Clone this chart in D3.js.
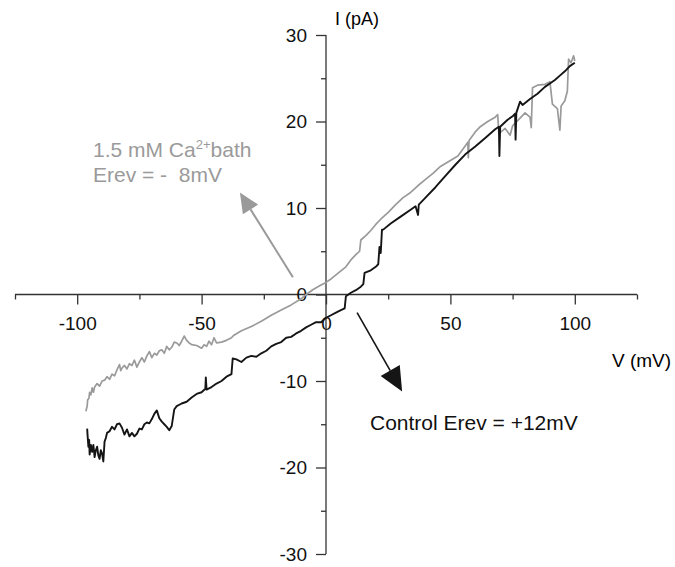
<!DOCTYPE html>
<html>
<head>
<meta charset="utf-8">
<script src="https://cdn.jsdelivr.net/npm/d3@7"></script>
<style>
  body { margin: 0; background: #fff; }
  svg { display: block; font-family: "Liberation Sans", Arial, sans-serif; }
  .axis text { font-size: 19px; fill: #111; }
  .axis line, .axis path { stroke: #333; stroke-width: 1.3; }
</style>
</head>
<body>
<div class="graph-container"></div>
<script>
var svgWidth = 675;
var svgHeight = 567;

// 1.5 mM Ca2+ bath trace, [V (mV), I (pA)]
var bathV = [-96.5, -96, -95.8, -95.3, -95, -94.5, -94, -93.5, -93, -92, -91, -90, -89, -88, -87, -86, -85, -84, -83, -82.5, -82, -81, -80, -79, -78, -77, -76, -75, -74, -73, -72, -71,
  -70, -69, -68, -67, -66, -65, -64, -63, -62, -61, -60, -59, -58, -57, -56, -55, -54, -52, -50, -49, -48, -47, -46, -45, -44, -42, -40, -38, -37, -34,
  -30, -26, -22, -18, -14, -10, -8, -5, -2, 0, 2, 5, 8, 10, 12, 13.5, 14, 16, 18, 20,
  22, 25, 28, 31, 34, 37, 40, 43, 46, 50, 53, 55, 57, 57.2, 57.5, 60, 62, 65, 68, 69,
  69.5, 72, 74, 75, 78, 80, 82, 82.5, 83, 85, 88, 90, 91, 93, 94, 94.5, 96, 97, 97.5, 98.5, 99.5, 100];
var bathI = [-13.5, -12.9, -12.2, -12.0, -11.3, -11.6, -10.8, -11.3, -10.7, -10.3, -10.6, -10.0, -9.9, -9.5, -9.8, -9.2, -9.4, -8.7, -8.1, -8.8, -8.5, -8.2, -8.6, -8.0, -8.2, -7.6, -8.4, -7.8, -7.3, -7.8, -7.1, -6.6,
  -7.3, -6.8, -7.0, -6.5, -6.4, -6.8, -6.0, -6.4, -6.1, -5.5, -5.6, -5.9, -5.4, -4.8, -5.3, -5.6, -5.8, -5.9, -6.2, -5.8, -6.0, -5.4, -5.8, -5.0, -5.6, -5.5, -5.3, -5.0, -4.7, -4.2,
  -3.7, -3.1, -2.4, -1.8, -1.2, -0.5, 0, 0.6, 1.1, 1.4, 1.8, 2.5, 3.2, 4.0, 4.6, 5.0, 6.3, 6.8, 7.4, 8.1,
  8.7, 9.5, 10.4, 11.2, 11.8, 12.6, 13.3, 14.0, 14.8, 15.5, 16.0, 16.8, 17.6, 15.8, 17.8, 18.8, 19.4, 20.0, 20.5, 20.8,
  18.6, 19.2, 18.4, 19.5, 20.4, 21.0, 20.5, 19.3, 23.9, 24.2, 24.3, 24.6, 22.0, 21.5, 19.0, 21.8, 22.4, 23.5, 27.2, 26.8, 27.6, 27.0];

// control trace
var ctrlV = [-96, -95.8, -95.5, -95.2, -95, -94.5, -94, -93.5, -93, -92.5, -92, -91.5, -91, -90.5, -90, -89.5, -89, -88.5, -88, -87, -86, -85, -84, -83, -82, -81, -80, -79, -78, -77, -76,
  -75, -74, -73, -72, -71, -70, -69, -68, -67, -66, -65, -64, -63, -62, -61, -60, -58, -56, -54, -52, -50, -48.5, -48.3, -48, -46,
  -44, -42, -40, -38, -37.5, -36, -34, -32, -30, -28, -26, -24, -22, -20, -18, -16, -14, -12, -10, -8,
  -6, -4, -2, 0, 2, 4, 6, 7.5, 8, 10, 12, 14, 15, 15.5, 18, 20, 21, 21.5, 22, 22.5,
  23, 26, 30, 34, 36, 37, 37.3, 40, 44, 48, 52, 56, 60, 64, 68, 69.5, 69.7, 70, 73, 75,
  76, 76.2, 76.5, 78, 79, 82, 85, 88, 90, 92, 94, 96, 98, 100];
var ctrlI = [-15.5, -16.4, -17.6, -16.8, -18.5, -17.4, -18.2, -17.4, -18.8, -18.0, -17.6, -18.6, -19.0, -18.0, -18.4, -19.3, -17.0, -16.6, -16.0, -15.8, -15.3, -15.6, -15.0, -14.9, -15.4, -16.2, -15.6, -16.4, -16.0, -16.4, -16.1,
  -15.5, -15.6, -15.0, -14.8, -14.9, -14.4, -13.8, -13.4, -14.3, -14.7, -15.0, -15.3, -15.7, -15.2, -13.3, -12.9, -12.6, -12.4, -11.9, -11.5, -11.3, -10.9, -9.6, -11.0, -10.7,
  -10.3, -10.0, -9.5, -9.2, -7.4, -7.5, -7.8, -7.3, -7.1, -7.2, -6.8, -6.5, -6.0, -5.7, -5.5, -5.0, -4.9, -4.5, -4.2, -3.8,
  -3.5, -3.2, -3.2, -2.7, -2.4, -2.1, -1.8, -1.6, -0.2, 0.2, 0.5, 0.9, 1.2, 2.5, 2.8, 3.2, 3.5, 5.5, 4.8, 7.5,
  7.5, 8.2, 9.0, 9.8, 10.2, 9.2, 10.4, 11.2, 12.4, 13.7, 15.0, 16.2, 17.1, 18.1, 19.1, 19.4, 16.0, 19.4, 20.2, 20.6,
  20.9, 17.9, 21.0, 22.3, 21.9, 22.6, 23.2, 24.0, 24.4, 24.8, 25.3, 25.8, 26.4, 26.8];

var xMajor = [-100, -50, 0, 50, 100];
var xMinor = [-125, -75, -25, 25, 75, 125];
var yMajor = [-30, -20, -10, 0, 10, 20, 30];
var yMinor = [-25, -15, -5, 5, 15, 25];

var svg = d3.select('.graph-container').append('svg')
  .attr('width', svgWidth)
  .attr('height', svgHeight);

var xScale = d3.scaleLinear().domain([-125, 125]).range([15, 637]);
var yScale = d3.scaleLinear().domain([-30, 30]).range([554, 35]);

// plain hyphen for negatives, like the original
var tickFmt = function(d) { return String(d); };

// x axis through I = 0
var gx = svg.append('g')
  .attr('class', 'axis')
  .attr('transform', 'translate(0,' + yScale(0) + ')');
gx.append('g')
  .call(d3.axisBottom(xScale).tickValues(xMajor).tickFormat(tickFmt).tickSize(10).tickPadding(12).tickSizeOuter(0))
  .select('.domain').remove();
gx.append('g')
  .call(d3.axisBottom(xScale).tickValues(xMinor).tickSize(5).tickFormat('').tickSizeOuter(0))
  .select('.domain').remove();
gx.append('line').attr('x1', xScale(-125)).attr('x2', xScale(125));

// y axis through V = 0
var gy = svg.append('g')
  .attr('class', 'axis')
  .attr('transform', 'translate(' + xScale(0) + ',0)');
gy.append('g')
  .call(d3.axisLeft(yScale).tickValues(yMajor).tickFormat(tickFmt).tickSize(10).tickPadding(9).tickSizeOuter(0))
  .select('.domain').remove();
gy.append('g')
  .call(d3.axisLeft(yScale).tickValues(yMinor).tickSize(5).tickFormat('').tickSizeOuter(0))
  .select('.domain').remove();
gy.append('line').attr('y1', yScale(-30)).attr('y2', yScale(30));

svg.selectAll('.axis text').style('font-family', '"Liberation Sans", Arial, sans-serif');

// axis titles
svg.append('text')
  .attr('x', xScale(0) + 9)
  .attr('y', 25)
  .style('font-size', '18px')
  .text('I (pA)');

svg.append('text')
  .attr('x', 612)
  .attr('y', 367)
  .style('font-size', '19px')
  .text('V (mV)');

// traces
var line = d3.line()
  .x(function(d) { return xScale(d[0]); })
  .y(function(d) { return yScale(d[1]); });

svg.append('path')
  .datum(bathV.map(function(v, i) { return [v, bathI[i]]; }))
  .attr('fill', 'none')
  .attr('stroke', '#9a9a9a')
  .attr('stroke-width', 1.7)
  .attr('stroke-linejoin', 'round')
  .attr('d', line);

svg.append('path')
  .datum(ctrlV.map(function(v, i) { return [v, ctrlI[i]]; }))
  .attr('fill', 'none')
  .attr('stroke', '#151515')
  .attr('stroke-width', 1.9)
  .attr('stroke-linejoin', 'round')
  .attr('d', line);

// arrows
function drawArrow(from, to, color, width, len, half) {
  var x1 = xScale(from[0]), y1 = yScale(from[1]);
  var x2 = xScale(to[0]), y2 = yScale(to[1]);
  var ang = Math.atan2(y2 - y1, x2 - x1);
  var bx = x2 - len * Math.cos(ang), by = y2 - len * Math.sin(ang);
  svg.append('line')
    .attr('x1', x1).attr('y1', y1).attr('x2', bx).attr('y2', by)
    .attr('stroke', color).attr('stroke-width', width);
  var pts = [[x2, y2],
    [bx + half * Math.sin(ang), by - half * Math.cos(ang)],
    [bx - half * Math.sin(ang), by + half * Math.cos(ang)]];
  svg.append('polygon')
    .attr('points', pts.map(function(p) { return p.join(','); }).join(' '))
    .attr('fill', color);
}

drawArrow([-13.3, 2.0], [-34.6, 11.8], '#9a9a9a', 2, 20, 9);
drawArrow([12.5, -2.1], [30.6, -11.2], '#151515', 1.6, 24, 11);

// annotations
var bathLabel = svg.append('text')
  .attr('x', 93)
  .attr('y', 157)
  .style('font-size', '21px')
  .attr('fill', '#9a9a9a');
bathLabel.append('tspan').text('1.5 mM Ca');
bathLabel.append('tspan').attr('dy', -8).style('font-size', '13px').text('2+');
bathLabel.append('tspan').attr('dy', 8).text('bath');

svg.append('text')
  .attr('x', 93)
  .attr('y', 182)
  .style('font-size', '21px')
  .attr('fill', '#9a9a9a')
  .attr('xml:space', 'preserve')
  .text('Erev = -  8mV');

svg.append('text')
  .attr('x', 370)
  .attr('y', 430)
  .style('font-size', '21px')
  .attr('fill', '#111')
  .text('Control Erev = +12mV');
</script>
</body>
</html>
